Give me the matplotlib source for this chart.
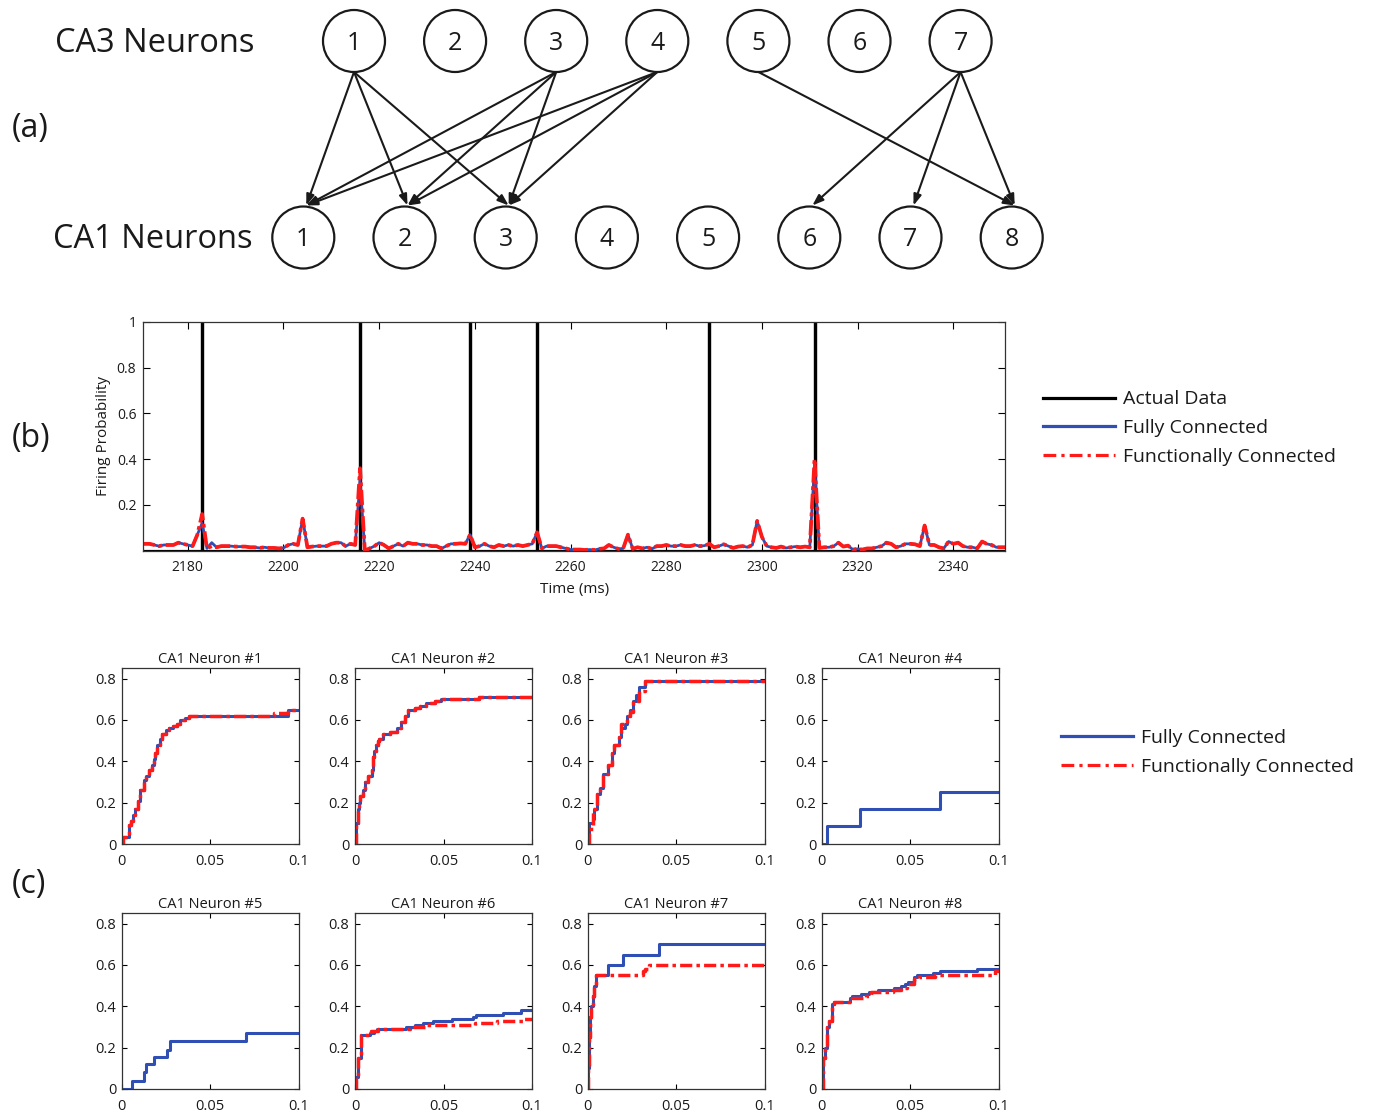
import numpy as np
import matplotlib.pyplot as plt
from matplotlib.patches import Circle
from matplotlib.lines import Line2D
from matplotlib.ticker import FuncFormatter

plt.rcParams['font.family'] = ['Open Sans', 'DejaVu Sans']
plt.rcParams['text.color'] = '#1a1a1a'
plt.rcParams['axes.labelcolor'] = '#1a1a1a'
plt.rcParams['xtick.labelcolor'] = '#1a1a1a'
plt.rcParams['ytick.labelcolor'] = '#1a1a1a'

# ---- network diagram ----
ca3_ids = [1, 2, 3, 4, 5, 6, 7]
ca1_ids = [1, 2, 3, 4, 5, 6, 7, 8]
# (CA3 neuron, CA1 neuron)
links = [(1, 1), (1, 2), (1, 3), (3, 1), (3, 2), (3, 3), (4, 1), (4, 2), (4, 3),
         (5, 8), (7, 6), (7, 7), (7, 8)]

# ---- firing probability trace ----
t_start = 2170
spike_times = [2183, 2216, 2239, 2253, 2289, 2311]
func_prob = [
    .03, .03, .03, .025, .02, .025, .025, .025, .035, .03,     # 2170
    .025, .02, .07, .16, .01, .02, .015, .02, .02, .02,        # 2180
    .018, .018, .018, .015, .015, .012, .015, .012, .012, .01,  # 2190
    .012, .025, .03, .025, .14, .015, .018, .02, .02, .02,     # 2200
    .03, .035, .035, .02, .03, .025, .36, .0, .01, .02,        # 2210
    .035, .025, .01, .02, .03, .02, .035, .03, .03, .025,      # 2220
    .025, .02, .02, .01, .02, .03, .03, .032, .03, .07,        # 2230
    .015, .02, .03, .02, .015, .025, .02, .025, .02, .025,     # 2240
    .02, .025, .03, .08, .01, .02, .02, .02, .015, .01,        # 2250
    .005, .005, .005, .003, .005, .003, .008, .01, .025, .015,  # 2260
    .008, .01, .07, .008, .015, .01, .015, .008, .02, .02,     # 2270
    .025, .02, .02, .025, .02, .02, .025, .02, .022, .03,      # 2280
    .015, .02, .028, .02, .012, .018, .02, .015, .025, .13,    # 2290
    .06, .02, .015, .012, .018, .012, .015, .018, .015, .018,  # 2300
    .015, .40, .012, .015, .015, .02, .035, .018, .022, .005,  # 2310
    .008, .005, .01, .01, .015, .02, .035, .03, .015, .02,     # 2320
    .03, .03, .028, .02, .11, .025, .025, .015, .01, .04,      # 2330
    .03, .035, .02, .015, .015, .01, .04, .03, .025, .015,     # 2340
    .015, .015,                                                # 2350
]
# fully connected model differs only at a few bins
full_diff = {2183: .12, 2185: .035, 2216: .31, 2311: .38}

# ---- cumulative curves, one per CA1 neuron ----
n1_full_t = [0, .001, .0042, .0055, .0065, .0075, .009, .0104, .0125, .014, .0155, .017, .018,
             .019, .02, .0215, .023, .025, .027, .029, .031, .033, .0355, .038, .094, .1]
n1_full_p = [0, .035, .09, .11, .14, .17, .21, .26, .31, .33, .36, .38, .41,
             .44, .48, .51, .53, .55, .56, .57, .58, .60, .61, .62, .65, .65]
n1_func_t = [0, .001, .0042, .0055, .0065, .0075, .009, .0104, .0125, .014, .0155, .017, .018,
             .019, .02, .0215, .023, .025, .027, .029, .031, .033, .0355, .038, .086, .094, .1]
n1_func_p = [0, .035, .09, .11, .14, .17, .21, .26, .31, .33, .36, .38, .41,
             .44, .48, .51, .53, .55, .56, .57, .58, .60, .61, .62, .635, .65, .65]

n2_full_t = [0, .0008, .0015, .002, .003, .0045, .0056, .0075, .0094, .0103, .011, .0118, .0128,
             .0137, .016, .0197, .0235, .026, .028, .030, .034, .0366, .040, .045, .0488, .070, .1]
n2_full_p = [0, .1, .17, .2, .23, .26, .3, .33, .36, .42, .45, .48, .5,
             .51, .53, .54, .56, .59, .62, .65, .66, .67, .68, .69, .70, .71, .71]
n2_func_t = n2_full_t
n2_func_p = n2_full_p

n3_full_t = [0, .0005, .0028, .0035, .005, .007, .0088, .0117, .0135, .0148, .0179, .0186,
             .021, .022, .0239, .0258, .0275, .029, .0325, .1]
n3_full_p = [0, .1, .12, .17, .24, .27, .34, .38, .44, .48, .52, .56,
             .58, .62, .65, .69, .72, .76, .79, .79]
n3_func_t = [0, .0005, .0018, .0032, .005, .007, .0088, .0117, .0135, .0148, .0175, .0186,
             .022, .0239, .0258, .029, .0323, .1]
n3_func_p = [0, .06, .08, .17, .24, .27, .34, .38, .44, .48, .52, .58,
             .62, .64, .69, .74, .79, .79]

n4_full_t = [0, .0028, .0217, .0666, .1]
n4_full_p = [0, .085, .17, .25, .25]

n5_full_t = [0, .0057, .0128, .0135, .018, .0255, .0274, .0704, .1]
n5_full_p = [0, .04, .08, .12, .155, .19, .23, .27, .27]

n6_full_t = [0, .0008, .0018, .0034, .0084, .0105, .0126, .029, .0338, .0385, .044, .055,
             .0666, .0685, .0835, .094, .1]
n6_full_p = [0, .06, .15, .26, .27, .28, .29, .30, .31, .32, .33, .34,
             .35, .36, .37, .38, .38]
n6_func_t = [0, .0008, .0018, .0034, .009, .013, .031, .04, .068, .08, .095, .1]
n6_func_p = [0, .06, .15, .26, .28, .29, .30, .31, .32, .33, .34, .34]

n7_full_t = [0, .0004, .0008, .0013, .002, .0028, .0035, .0047, .0117, .0197, .0404, .1]
n7_full_p = [0, .1, .25, .35, .4, .45, .5, .55, .6, .65, .70, .70]
n7_func_t = [0, .0004, .0008, .0013, .002, .0028, .0035, .0047, .0314, .0325, .0348, .1]
n7_func_p = [0, .1, .25, .35, .4, .45, .5, .55, .57, .58, .6, .6]

n8_full_t = [0, .0005, .001, .002, .0028, .004, .0057, .007, .016, .017, .022, .027, .032,
             .041, .045, .047, .049, .052, .054, .063, .067, .088, .1]
n8_full_p = [0, .03, .15, .2, .3, .33, .41, .42, .44, .45, .46, .47, .48,
             .49, .50, .51, .52, .54, .55, .56, .57, .58, .58]
n8_func_t = [0, .0005, .001, .002, .0028, .004, .0057, .007, .017, .025, .028, .04, .045,
             .048, .052, .055, .064, .098, .1]
n8_func_p = [0, .03, .15, .2, .3, .33, .41, .42, .44, .45, .47, .48, .49,
             .51, .53, .54, .55, .57, .57]

full_curves = [(n1_full_t, n1_full_p), (n2_full_t, n2_full_p), (n3_full_t, n3_full_p),
               (n4_full_t, n4_full_p), (n5_full_t, n5_full_p), (n6_full_t, n6_full_p),
               (n7_full_t, n7_full_p), (n8_full_t, n8_full_p)]
func_curves = [(n1_func_t, n1_func_p), (n2_func_t, n2_func_p), (n3_func_t, n3_func_p),
               None, None, (n6_func_t, n6_func_p),
               (n7_func_t, n7_func_p), (n8_func_t, n8_func_p)]

BLUE = '#2f4fb5'
RED = '#ff1a1a'
W, H = 1374, 1115
fig = plt.figure(figsize=(W / 100, H / 100), dpi=100)


def px_axes(l, t, r, b):
    return fig.add_axes([l / W, 1 - b / H, (r - l) / W, (b - t) / H])


fmt = FuncFormatter(lambda v, pos: '%g' % round(v, 3))

# ---- (a) ----
ax0 = fig.add_axes([0, 0, 1, 1])
ax0.set_xlim(0, W)
ax0.set_ylim(H, 0)
ax0.axis('off')

R = 31
ca3_xy = {n: (354 + 101.1 * i, 41) for i, n in enumerate(ca3_ids)}
ca1_xy = {n: (303.3 + 101.2 * i, 237.5) for i, n in enumerate(ca1_ids)}
for d in (ca3_xy, ca1_xy):
    for n, (x, y) in d.items():
        ax0.add_patch(Circle((x, y), R, fill=False, ec='#1a1a1a', lw=1.6))
        ax0.text(x, y + 2, str(n), ha='center', va='center', fontsize=18)

for a, b in links:
    x3, y3 = ca3_xy[a]
    x1, y1 = ca1_xy[b]
    ax0.annotate('', xy=(x1 + 3, y1 - R - 1), xytext=(x3, y3 + R),
                 arrowprops=dict(arrowstyle='-|>,head_length=0.5,head_width=0.18',
                                 color='#1a1a1a', lw=1.5, shrinkA=0, shrinkB=0,
                                 mutation_scale=13))

ax0.text(155, 43, 'CA3 Neurons', ha='center', va='center', fontsize=23.5)
ax0.text(153, 239, 'CA1 Neurons', ha='center', va='center', fontsize=23.5)
ax0.text(30, 129, '(a)', ha='center', va='center', fontsize=23)
ax0.text(31, 439, '(b)', ha='center', va='center', fontsize=23)
ax0.text(29, 884, '(c)', ha='center', va='center', fontsize=23)

# ---- (b) ----
t = np.arange(len(func_prob)) + t_start
full_prob = [full_diff.get(int(tt), p) for tt, p in zip(t, func_prob)]
act_t, act_p = [t[0]], [0]
for s in spike_times:
    act_t += [s, s, s]
    act_p += [0, 1, 0]
act_t.append(t[-1])
act_p.append(0)

axb = px_axes(143.3, 321.7, 1005, 550.7)
axb.plot(act_t, act_p, color='black', lw=2.3)
axb.plot(t, full_prob, color=BLUE, lw=2)
axb.plot(t, func_prob, color=RED, lw=2.7, dashes=(4, 1, 1, 1))
axb.set_xlim(2170.7, 2350.8)
axb.set_ylim(0, 1)
axb.set_xticks(range(2180, 2341, 20))
axb.set_yticks([0.2, 0.4, 0.6, 0.8, 1])
axb.yaxis.set_major_formatter(fmt)
axb.tick_params(direction='in', top=True, right=True, length=5, width=0.8,
                labelsize=10, pad=5)
axb.tick_params(axis='x', pad=7)
axb.set_ylabel('Firing Probability', fontsize=11, labelpad=4)
axb.set_xlabel('Time (ms)', fontsize=11, labelpad=5)
for sp in axb.spines.values():
    sp.set_linewidth(0.9)
    sp.set_color('#333333')

h_act = Line2D([], [], color='black', lw=2.3)
h_full = Line2D([], [], color=BLUE, lw=2.3)
h_func = Line2D([], [], color=RED, lw=2.3, dashes=(4, 1.6, 1, 1.6))
fig.legend([h_act, h_full, h_func], ['Actual Data', 'Fully Connected', 'Functionally Connected'],
           loc='center left', bbox_to_anchor=(1043 / W, 1 - 428 / H), frameon=False,
           fontsize=14, handlelength=3.7, handletextpad=0.4, labelspacing=0.54,
           borderpad=0, borderaxespad=0)

# ---- (c) ----
lefts = [121.7, 355, 587.7, 821.7]
rows = [(668.3, 844), (913.3, 1089)]
for k in range(8):
    top, bot = rows[k // 4]
    left = lefts[k % 4]
    ax = px_axes(left, top, left + 177, bot)
    ft, fp = full_curves[k]
    ax.plot(ft, fp, drawstyle='steps-post', color=BLUE, lw=2.2)
    if func_curves[k] is not None:
        gt, gp = func_curves[k]
        ax.plot(gt, gp, drawstyle='steps-post', color=RED, lw=2.5, dashes=(3.5, 1.2, 1, 1.2))
    ax.set_xlim(0, 0.1)
    ax.set_ylim(0, 0.85)
    ax.set_xticks([0, 0.05, 0.1])
    ax.set_yticks([0, 0.2, 0.4, 0.6, 0.8])
    ax.xaxis.set_major_formatter(fmt)
    ax.yaxis.set_major_formatter(fmt)
    ax.tick_params(direction='in', top=True, right=True, length=3.5, width=0.8,
                   labelsize=10.5, pad=4)
    ax.tick_params(axis='x', pad=7)
    ax.set_title('CA1 Neuron #%d' % (k + 1), fontsize=10.5, pad=4)
    for sp in ax.spines.values():
        sp.set_linewidth(0.9)
        sp.set_color('#333333')

fig.legend([h_full, h_func], ['Fully Connected', 'Functionally Connected'],
           loc='center left', bbox_to_anchor=(1061 / W, 1 - 752.5 / H), frameon=False,
           fontsize=14, handlelength=3.7, handletextpad=0.4, labelspacing=0.54,
           borderpad=0, borderaxespad=0)

fig.savefig('out.png', dpi=100)
